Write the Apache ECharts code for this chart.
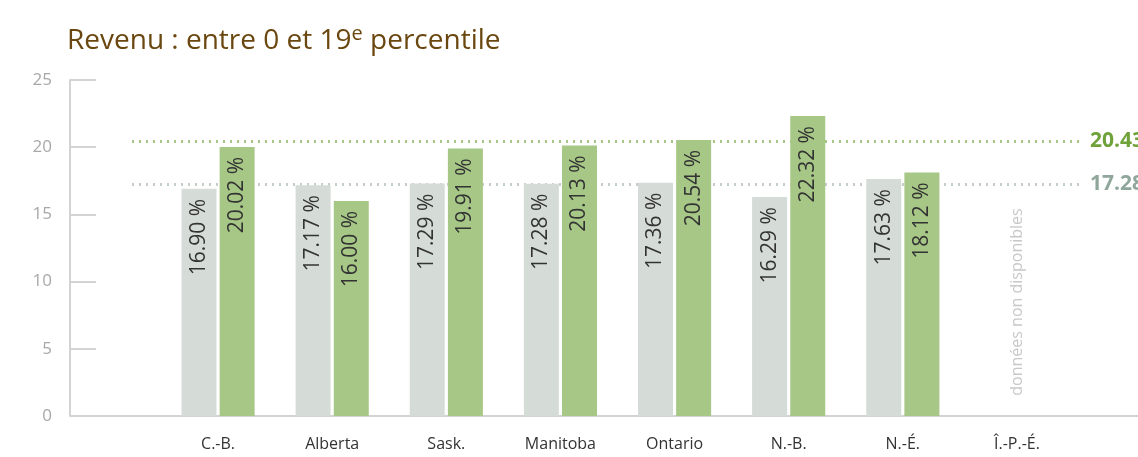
<!DOCTYPE html>
<html>
<head>
<meta charset="utf-8">
<script src="https://cdn.jsdelivr.net/npm/echarts@6/dist/echarts.min.js"></script>
<style>
  html, body { margin: 0; padding: 0; background: #fff; }
  #chart { width: 1138px; height: 457px; }
</style>
</head>
<body>
<div id="chart"></div>
<script>
// provinces, the last one has no data
var provinces = ['C.-B.', 'Alberta', 'Sask.', 'Manitoba', 'Ontario', 'N.-B.', 'N.-É.', 'Î.-P.-É.'];
var grisValues = [16.90, 17.17, 17.29, 17.28, 17.36, 16.29, 17.63, null];
var vertValues = [20.02, 16.00, 19.91, 20.13, 20.54, 22.32, 18.12, null];
var moyenneVert = 20.43;
var moyenneGris = 17.28;
var yTicks = [0, 5, 10, 15, 20, 25];

var FONT = '"Open Sans", sans-serif';

var myChart = echarts.init(document.getElementById('chart'));

function fmt(v) {
  return Number(v).toFixed(2) + ' %';
}

function pct(p) {
  var v = Array.isArray(p.value) ? p.value[1] : p.value;
  if (v == null || isNaN(v)) return '';
  return fmt(v);
}

function barLabel() {
  return {
    show: true,
    position: 'insideTop',
    rotate: 90,
    align: 'right',
    verticalAlign: 'middle',
    distance: 10,
    fontFamily: FONT,
    fontSize: 21,
    color: '#333',
    formatter: pct
  };
}

function avgLine(value) {
  return [
    { x: 132, yAxis: value, value: value },
    { x: 1084, yAxis: value, value: value }
  ];
}

function avgMark(value, lineColor, textColor) {
  return {
    z: 1,
    silent: true,
    symbol: 'none',
    lineStyle: { type: [2, 5], width: 3, color: lineColor },
    label: {
      show: true, position: 'end', distance: 6,
      padding: [0, 0, 11, 0],
      fontFamily: FONT, fontSize: 21, fontWeight: 'bold', color: textColor,
      formatter: fmt(value)
    },
    data: [avgLine(value)]
  };
}

const option = {
  animation: false,
  title: {
    text: 'Revenu : entre 0 et 19{sup|e} percentile',
    left: 62,
    top: 19,
    textStyle: {
      fontFamily: FONT,
      fontSize: 28,
      fontWeight: 'normal',
      color: '#6b4710',
      rich: {
        sup: { fontFamily: FONT, fontSize: 20, color: '#6b4710', verticalAlign: 'top', padding: [0, 0, 14, 0] }
      }
    }
  },
  grid: { left: 161, right: 64, top: 80, bottom: 41 },
  xAxis: {
    type: 'category',
    data: provinces,
    axisLine: { show: false },
    axisTick: { show: false },
    axisLabel: { color: '#333', fontFamily: FONT, fontSize: 16, margin: 20 }
  },
  yAxis: {
    type: 'value',
    min: yTicks[0],
    max: yTicks[yTicks.length - 1],
    interval: 5,
    offset: 91,
    axisLine: { show: true, lineStyle: { color: '#d3d3d3', width: 2 } },
    axisTick: { show: true, inside: true, length: 26, lineStyle: { color: '#d3d3d3', width: 2 } },
    axisLabel: { color: '#a8a8a8', fontFamily: FONT, fontSize: 17, margin: 18 },
    splitLine: { show: false }
  },
  graphic: [
    {
      type: 'line',
      shape: { x1: 70, y1: 416, x2: 1138, y2: 416 },
      style: { stroke: '#d3d3d3', lineWidth: 2 },
      z: 0
    },
    {
      type: 'text',
      x: 1017,
      y: 302,
      rotation: Math.PI / 2,
      style: {
        text: 'données non disponibles',
        fill: '#c8c8c8',
        font: '16px ' + FONT,
        align: 'center',
        verticalAlign: 'middle'
      }
    }
  ],
  series: [
    {
      name: 'gris',
      type: 'bar',
      data: grisValues,
      barWidth: 35,
      barGap: '9%',
      clip: false,
      itemStyle: { color: '#d5dcd8' },
      label: barLabel(),
      z: 3,
      markLine: avgMark(moyenneGris, '#c5cfca', '#8fa69b')
    },
    {
      name: 'vert',
      type: 'bar',
      data: vertValues,
      barWidth: 35,
      clip: false,
      itemStyle: { color: '#a6c785' },
      label: barLabel(),
      z: 3,
      markLine: avgMark(moyenneVert, '#a6c785', '#6fa23a')
    }
  ]
};

myChart.setOption(option);
</script>
</body>
</html>
